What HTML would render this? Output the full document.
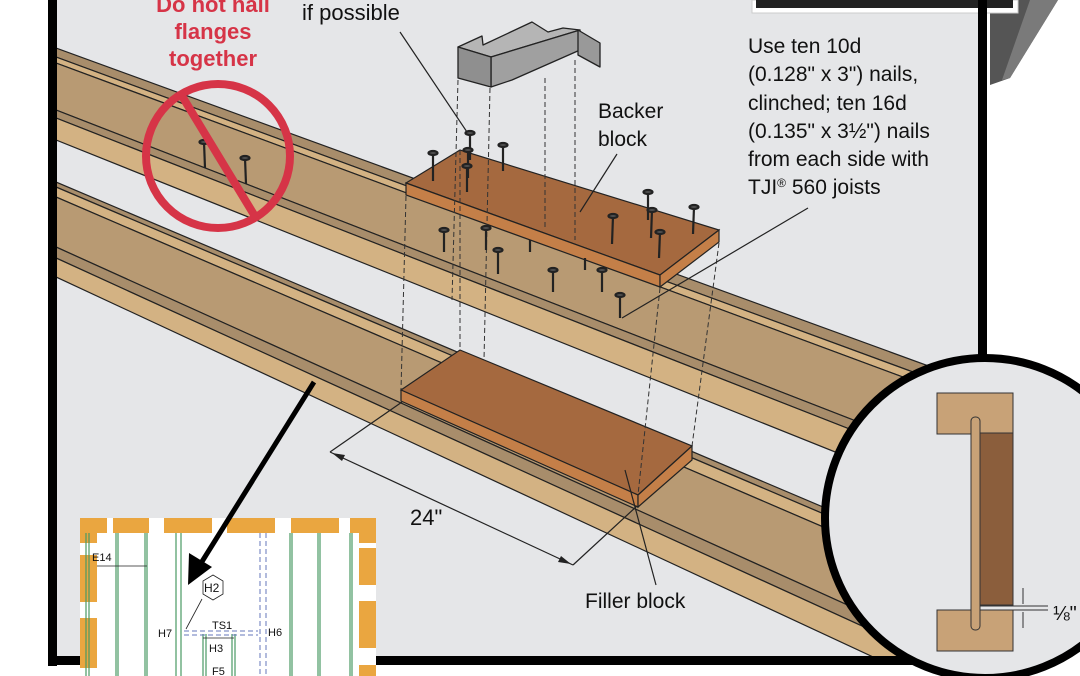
<!DOCTYPE html>
<html><head><meta charset="utf-8"><style>
html,body{margin:0;padding:0;background:#fff;width:1080px;height:676px;overflow:hidden}
svg{display:block}
text{font-family:"Liberation Sans",sans-serif}
</style></head><body>
<svg width="1080" height="676" viewBox="0 0 1080 676" xmlns="http://www.w3.org/2000/svg">
<defs><clipPath id="pc"><rect x="57" y="0" width="921" height="656"/></clipPath><clipPath id="all"><rect x="0" y="0" width="1080" height="676"/></clipPath></defs>
<g clip-path="url(#all)">
<rect x="52" y="0" width="930" height="661" fill="#e5e6e8"/>
<polygon points="990,0 1058,0 1010,78 990,85" fill="#555"/>
<polygon points="1030,0 1058,0 1010,78 1002,80" fill="#7a7a7a"/>
<g clip-path="url(#pc)" stroke="#222" stroke-width="1.2">
<polygon points="56,48 1000,392 1000,404 56,57" fill="#a88d6b"/>
<polygon points="56,57 1000,404 1000,413 56,63" fill="#d3b283"/>
<polygon points="56,63 1000,413 1000,477 56,110" fill="#b89a73"/>
<polygon points="56,110 1000,477 1000,488 56,118" fill="#a88d6b"/>
<polygon points="56,118 1000,488 1000,518 56,140" fill="#d3b283"/>
<polygon points="56,182 1000,582 1000,589 56,187" fill="#a88d6b"/>
<polygon points="56,187 1000,589 1000,603 56,197" fill="#d3b283"/>
<polygon points="56,197 1000,603 1000,674 56,247" fill="#b89a73"/>
<polygon points="56,247 1000,674 1000,689 56,258" fill="#a88d6b"/>
<polygon points="56,258 1000,689 1000,716 56,277" fill="#d3b283"/>
</g>
<g stroke="#222" stroke-width="1.2">
<polygon points="401,390 460,350 692,446 638,495" fill="#a5693f"/>
<polygon points="401,390 638,495 638,507 401,401" fill="#c47f48"/>
<polygon points="638,495 692,446 692,460 638,507" fill="#c47f48"/>
<polygon points="406,183 460,150 719,230 660,275" fill="#a5693f"/>
<polygon points="406,183 660,275 660,287 406,195" fill="#c47f48"/>
<polygon points="660,275 719,230 719,242 660,287" fill="#c47f48"/>
</g>
<g stroke="#222" stroke-width="1.3" stroke-linejoin="round">
<polygon points="458,47 482,36 483,45 532,22 548,32 563,28 580,30 491,57" fill="#b5b5b5"/>
<polygon points="491,57 580,30 580,50 512,80 491,87" fill="#a0a0a0"/>
<polygon points="458,47 491,57 491,87 458,78" fill="#8f8f8f"/>
<polygon points="578,30 600,43 600,67 578,55" fill="#999"/>
</g>
<g stroke="#333" stroke-width="1" stroke-dasharray="5,3" fill="none">
<line x1="458" y1="80" x2="452" y2="300"/>
<line x1="490" y1="88" x2="484" y2="360"/>
<line x1="545" y1="78" x2="545" y2="230"/>
<line x1="575" y1="60" x2="575" y2="240"/>
<line x1="406" y1="196" x2="401" y2="390"/>
<line x1="660" y1="288" x2="638" y2="495"/>
<line x1="719" y1="243" x2="692" y2="446"/>
<line x1="460" y1="150" x2="460" y2="350"/>
</g>
<g stroke="#222" stroke-width="2.2" fill="#555">
<line x1="470" y1="133" x2="470" y2="160"/><ellipse cx="470" cy="133" rx="4.5" ry="2"/>
<line x1="468" y1="150" x2="468" y2="178"/><ellipse cx="468" cy="150" rx="4.5" ry="2"/>
<line x1="467" y1="166" x2="467" y2="192"/><ellipse cx="467" cy="166" rx="4.5" ry="2"/>
<line x1="433" y1="153" x2="433" y2="181"/><ellipse cx="433" cy="153" rx="4.5" ry="2"/>
<line x1="503" y1="145" x2="503" y2="171"/><ellipse cx="503" cy="145" rx="4.5" ry="2"/>
<line x1="444" y1="230" x2="444" y2="252"/><ellipse cx="444" cy="230" rx="4.5" ry="2"/>
<line x1="486" y1="228" x2="486" y2="250"/><ellipse cx="486" cy="228" rx="4.5" ry="2"/>
<line x1="498" y1="250" x2="498" y2="274"/><ellipse cx="498" cy="250" rx="4.5" ry="2"/>
<line x1="648" y1="192" x2="648" y2="220"/><ellipse cx="648" cy="192" rx="4.5" ry="2"/>
<line x1="613" y1="216" x2="612" y2="244"/><ellipse cx="613" cy="216" rx="4.5" ry="2"/>
<line x1="652" y1="210" x2="651" y2="238"/><ellipse cx="652" cy="210" rx="4.5" ry="2"/>
<line x1="660" y1="232" x2="659" y2="258"/><ellipse cx="660" cy="232" rx="4.5" ry="2"/>
<line x1="694" y1="207" x2="693" y2="234"/><ellipse cx="694" cy="207" rx="4.5" ry="2"/>
<line x1="553" y1="270" x2="553" y2="292"/><ellipse cx="553" cy="270" rx="4.5" ry="2"/>
<line x1="602" y1="270" x2="602" y2="292"/><ellipse cx="602" cy="270" rx="4.5" ry="2"/>
<line x1="620" y1="295" x2="620" y2="318"/><ellipse cx="620" cy="295" rx="4.5" ry="2"/>
<line x1="530" y1="240" x2="530" y2="252"/>
<line x1="585" y1="258" x2="585" y2="270"/>
<line x1="204" y1="142" x2="205" y2="168"/><ellipse cx="204" cy="142" rx="4.5" ry="2"/>
<line x1="245" y1="158" x2="246" y2="184"/><ellipse cx="245" cy="158" rx="4.5" ry="2"/>
</g>
<circle cx="218" cy="156" r="72" fill="none" stroke="#d63447" stroke-width="8"/>
<line x1="182" y1="96" x2="256" y2="218" stroke="#d63447" stroke-width="8"/>
<g stroke="#222" stroke-width="1.2" fill="none">
<line x1="400" y1="32" x2="467" y2="132"/>
<line x1="617" y1="154" x2="580" y2="212"/>
<line x1="808" y1="208" x2="622" y2="318"/>
<line x1="625" y1="470" x2="656" y2="585"/>
<line x1="330" y1="452" x2="402" y2="402"/>
<line x1="573" y1="565" x2="637" y2="506"/>
<line x1="330" y1="452" x2="573" y2="565"/>
</g>
<polygon points="332,453 345,455 342,461" fill="#222"/>
<polygon points="571,564 558,562 561,556" fill="#222"/>
<g fill="#d63447" font-weight="bold" font-size="22" text-anchor="middle">
<text x="213" y="12">Do not nail</text>
<text x="213" y="39">flanges</text>
<text x="213" y="66">together</text>
</g>
<g fill="#111" font-size="21">
<text x="302" y="20" font-size="22">if possible</text>
<text x="598" y="118">Backer</text>
<text x="598" y="146">block</text>
<text x="748" y="53">Use ten 10d</text>
<text x="748" y="81">(0.128" x 3") nails,</text>
<text x="748" y="110">clinched; ten 16d</text>
<text x="748" y="138">(0.135" x 3½") nails</text>
<text x="748" y="166">from each side with</text>
<text x="748" y="194">TJI<tspan font-size="12" dy="-7">®</tspan><tspan dy="7"> 560 joists</tspan></text>
<text x="410" y="525" font-size="22">24"</text>
<text x="585" y="608">Filler block</text>
</g>
<rect x="752" y="0" width="266" height="13" fill="#fff" stroke="#ccc" stroke-width="1"/>
<rect x="756" y="0" width="257" height="8" fill="#222"/>
<rect x="48" y="0" width="9" height="666" fill="#000"/>
<rect x="48" y="656" width="900" height="9" fill="#000"/>
<rect x="978" y="0" width="9" height="362" fill="#000"/>
<circle cx="985" cy="518" r="160" fill="#e5e6e8" stroke="#000" stroke-width="8"/>
<g stroke="#333" stroke-width="1">
<rect x="937" y="393" width="76" height="41" fill="#c8a277"/>
<rect x="980" y="433" width="33" height="172" fill="#8b5e3c"/>
<rect x="937" y="610" width="76" height="41" fill="#c8a277"/>
<rect x="971" y="417" width="9" height="213" rx="4" fill="#c8a277"/>
<line x1="980" y1="606" x2="1048" y2="606"/>
<line x1="980" y1="610" x2="1048" y2="610"/>
<line x1="1023" y1="588" x2="1023" y2="604"/>
<line x1="1023" y1="612" x2="1023" y2="628"/>
</g>
<text x="1053" y="620" font-size="20" fill="#111">⅛"</text>
<rect x="80" y="518" width="296" height="158" fill="#fff"/>
<g fill="#eaa640">
<rect x="80" y="518" width="27" height="15"/><rect x="80" y="518" width="17" height="25"/>
<rect x="113" y="518" width="36" height="15"/>
<rect x="164" y="518" width="48" height="15"/>
<rect x="227" y="518" width="48" height="15"/>
<rect x="291" y="518" width="48" height="15"/>
<rect x="350" y="518" width="26" height="15"/><rect x="359" y="518" width="17" height="25"/>
<rect x="80" y="555" width="17" height="47"/>
<rect x="80" y="618" width="17" height="50"/>
<rect x="359" y="548" width="17" height="37"/>
<rect x="359" y="601" width="17" height="47"/>
<rect x="359" y="665" width="17" height="11"/>
</g>
<g stroke="#4a9a63" stroke-width="1.2">
<line x1="86" y1="533" x2="86" y2="676"/><line x1="89" y1="533" x2="89" y2="676"/>
<line x1="116" y1="533" x2="116" y2="676"/><line x1="118" y1="533" x2="118" y2="676"/>
<line x1="145" y1="533" x2="145" y2="676"/><line x1="147" y1="533" x2="147" y2="676"/>
<line x1="176" y1="533" x2="176" y2="676"/><line x1="181" y1="533" x2="181" y2="676"/>
<line x1="203" y1="634" x2="203" y2="676"/><line x1="206" y1="634" x2="206" y2="676"/>
<line x1="232" y1="634" x2="232" y2="676"/><line x1="235" y1="634" x2="235" y2="676"/>
<line x1="290" y1="533" x2="290" y2="676"/><line x1="292" y1="533" x2="292" y2="676"/>
<line x1="318" y1="533" x2="318" y2="676"/><line x1="320" y1="533" x2="320" y2="676"/>
<line x1="350" y1="533" x2="350" y2="676"/><line x1="352" y1="533" x2="352" y2="676"/>
</g>
<g stroke="#6677bb" stroke-width="1" stroke-dasharray="5,3">
<line x1="260" y1="533" x2="260" y2="676"/><line x1="266" y1="533" x2="266" y2="676"/>
<line x1="184" y1="631" x2="258" y2="631"/><line x1="184" y1="635" x2="258" y2="635"/>
</g>
<g stroke="#222" stroke-width="0.8" fill="none">
<line x1="97" y1="566" x2="147" y2="566"/>
<line x1="202" y1="599" x2="186" y2="629"/>
<polygon points="213,575 223,581 223,594 213,600 203,594 203,581" fill="#fff"/>
<line x1="203" y1="638" x2="234" y2="638"/>
</g>
<g font-size="11" fill="#111">
<text x="92" y="561">E14</text>
<text x="204" y="592" font-size="12">H2</text>
<text x="158" y="637">H7</text>
<text x="212" y="629">TS1</text>
<text x="268" y="636">H6</text>
<text x="209" y="652">H3</text>
<text x="212" y="675">F5</text>
</g>
<line x1="314" y1="382" x2="198" y2="568" stroke="#000" stroke-width="5"/>
<polygon points="188,585 189,553 212,567" fill="#000"/>
</g>
</svg>
</body></html>
